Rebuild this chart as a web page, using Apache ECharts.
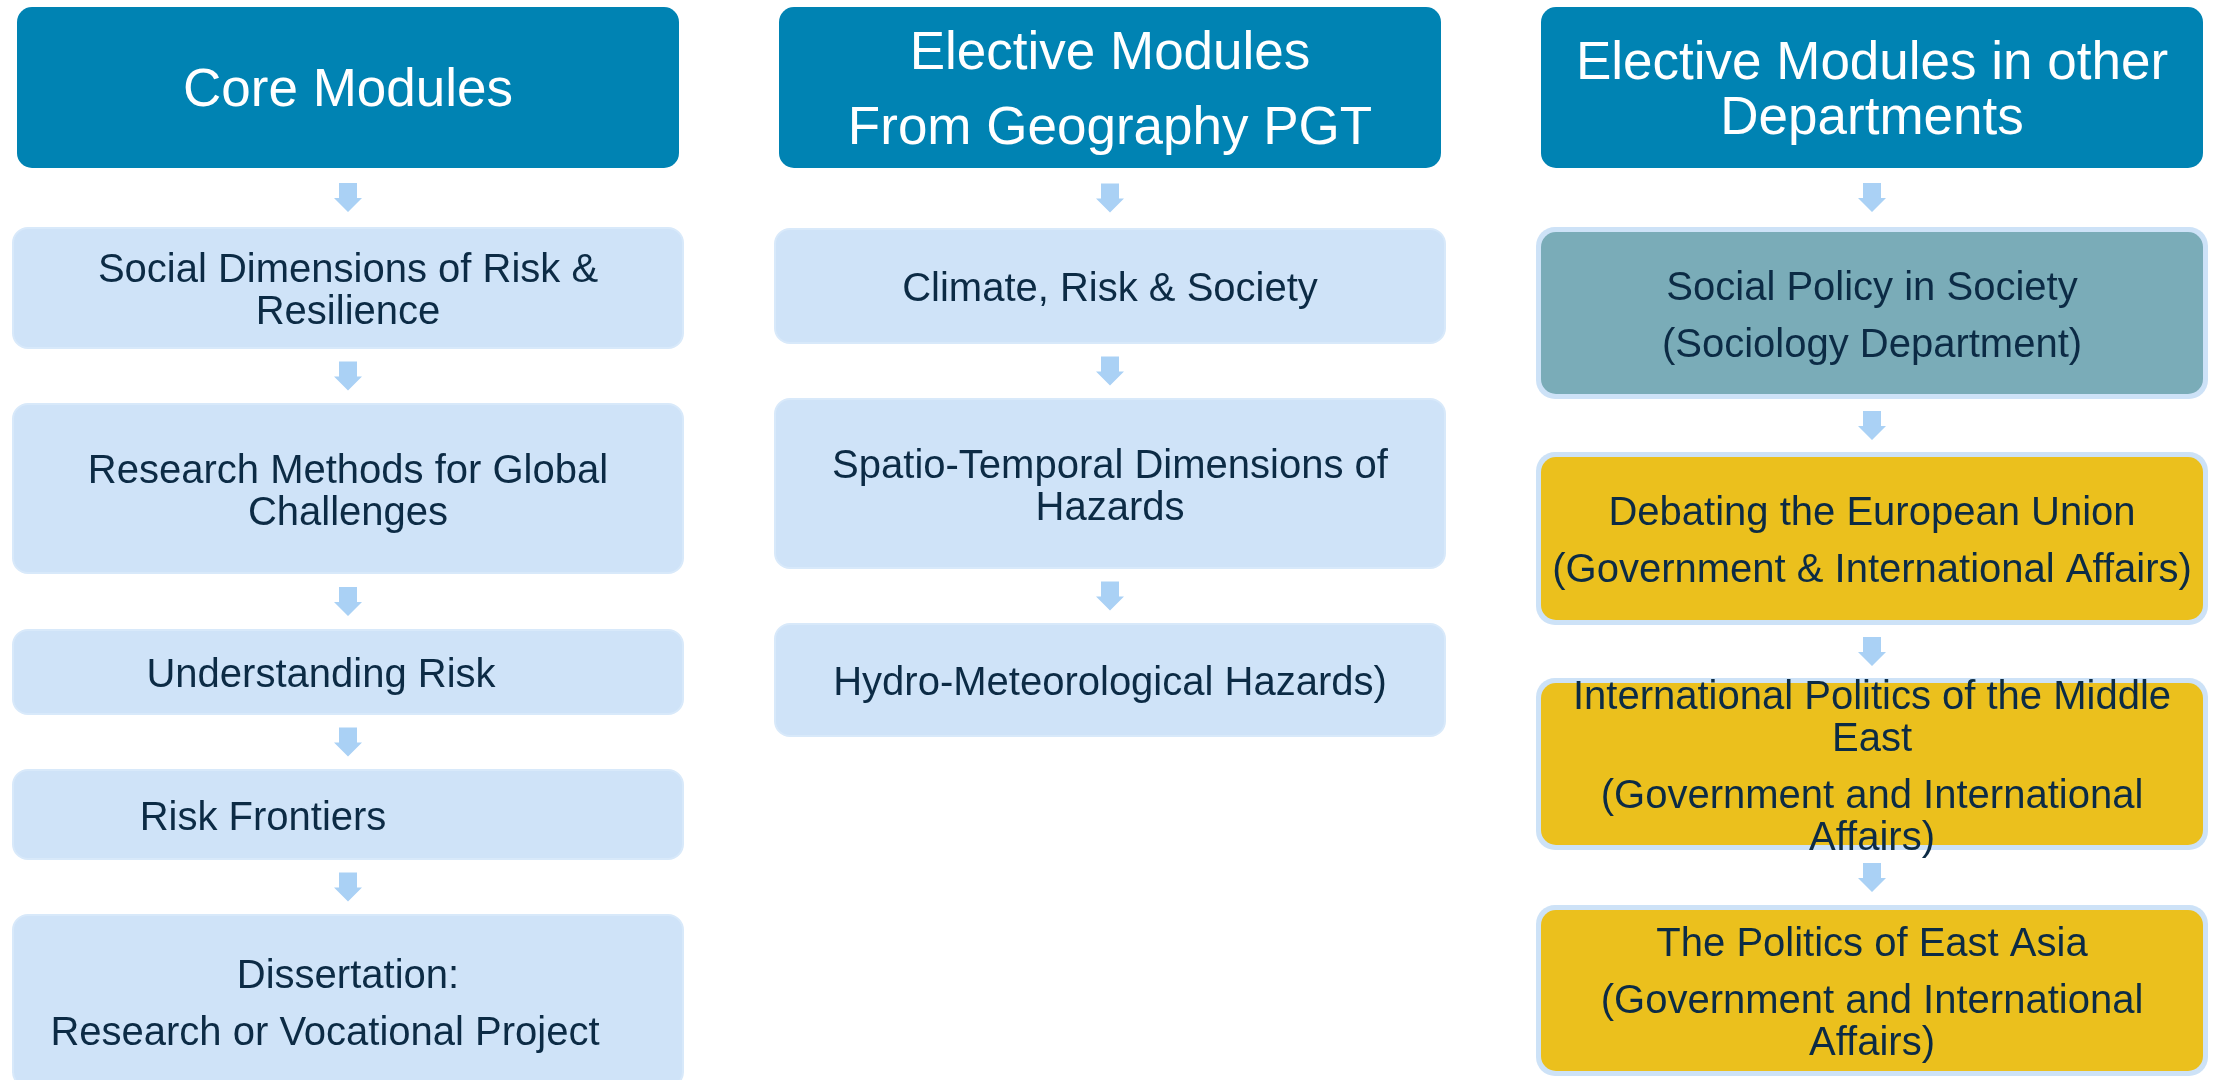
<!DOCTYPE html>
<html>
<head>
<meta charset="utf-8">
<script src="https://cdn.jsdelivr.net/npm/echarts@6/dist/echarts.min.js"></script>
<style>
  html, body { margin: 0; padding: 0; background: #ffffff; }
  #chart { width: 2219px; height: 1080px; }
</style>
</head>
<body>
<div id="chart"></div>
<script>
// ---------------- DATA (text content of the diagram) ----------------
// Each entry is a list of paragraphs; each paragraph is a list of wrapped lines.
const columnTitles = [
  [['Core Modules']],
  [['Elective Modules'], ['From Geography PGT']],
  [['Elective Modules in other', 'Departments']]
];
const coreModules = [
  [['Social Dimensions of Risk &', 'Resilience']],
  [['Research Methods for Global', 'Challenges']],
  [['Understanding Risk']],
  [['Risk Frontiers']],
  [['Dissertation:'], ['Research or Vocational Project']]
];
const geographyElectives = [
  [['Climate, Risk & Society']],
  [['Spatio-Temporal Dimensions of', 'Hazards']],
  [['Hydro-Meteorological Hazards)']]
];
const otherDeptElectives = [
  [['Social Policy in Society'], ['(Sociology Department)']],
  [['Debating the European Union'], ['(Government & International Affairs)']],
  [['International Politics of the Middle', 'East'], ['(Government and International', 'Affairs)']],
  [['The Politics of East Asia'], ['(Government and International', 'Affairs)']]
];
const otherDeptGroups = ['Sociology', 'Government', 'Government', 'Government'];
const columnModules = [coreModules, geographyElectives, otherDeptElectives];

// ---------------- LAYOUT (frame units = pixels of 2219 x 1080) ----------------
const FRAME_W = 2219, FRAME_H = 1080;
const colCenters = [348, 1110, 1872];
const headerSpan = [7, 168];
const headerWidth = 662;
const boxWidth = [672, 672, 662];
const haloWidth = [0, 0, 5];
const boxSpans = [
  [[227, 349], [403, 574], [629, 715], [769, 860], [914, 1088]],
  [[228, 344], [398, 569], [623, 737]],
  [[232, 394], [457, 620], [683, 845], [910, 1071]]
];
const lineShifts = { '0-2': [-27], '0-3': [-85], '0-4': [0, -23] };

// ---------------- STYLE ----------------
const FONT = "'Liberation Sans', Arial, 'Helvetica Neue', sans-serif";
const headerFont = { size: 53, wrap: 55, para: 75, dy: 4 };
const bodyFont = { size: 40, wrap: 42, para: 57, dy: 4 };
const colors = {
  header: '#0083B3',
  headerText: '#ffffff',
  body: '#CFE3F8',
  bodyEdge: '#D8E9FA',
  halo: '#CDE2F7',
  arrow: '#AAD1F5',
  text: '#0C2B45',
  Sociology: '#7AACB8',
  Government: '#EBC01D'
};
const radius = 15;

// ---------------- helpers ----------------
function frameToPx(api, x, y) { return api.coord([x, y]); }
function scaleOf(api) {
  const a = api.coord([0, 0]), b = api.coord([100, 100]);
  return [(b[0] - a[0]) / 100, (b[1] - a[1]) / 100];
}
function textElements(paragraphs, cx, cy, font, color, shifts, sx) {
  const items = [];
  let y = 0;
  paragraphs.forEach(function (p) {
    p.forEach(function (line, li) {
      if (items.length) y += (li === 0 ? font.para : font.wrap);
      items.push({ line: line, y: y });
    });
  });
  const mid = y / 2;
  return items.map(function (o, i) {
    const dx = shifts ? (shifts[i] || 0) : 0;
    return {
      type: 'text',
      silent: true,
      style: {
        text: o.line,
        x: cx + dx * sx,
        y: cy + (o.y - mid + font.dy) * sx,
        fill: color,
        fontSize: font.size * sx,
        fontFamily: FONT,
        textAlign: 'center',
        textVerticalAlign: 'middle',
        verticalAlign: 'middle'
      }
    };
  });
}

// ---------------- series ----------------
const headerData = columnTitles.map(function (_, c) { return [c, 0]; });
const boxData = [];
columnModules.forEach(function (mods, c) { mods.forEach(function (_, r) { boxData.push([c, r]); }); });
const arrowData = [];
columnModules.forEach(function (mods, c) { mods.forEach(function (_, r) { arrowData.push([c, r]); }); });

function renderHeader(params, api) {
  const c = api.value(0);
  const s = scaleOf(api);
  const tl = frameToPx(api, colCenters[c] - headerWidth / 2, headerSpan[0]);
  const br = frameToPx(api, colCenters[c] + headerWidth / 2, headerSpan[1]);
  const cx = (tl[0] + br[0]) / 2, cy = (tl[1] + br[1]) / 2;
  return {
    type: 'group',
    children: [{
      type: 'rect',
      shape: { x: tl[0], y: tl[1], width: br[0] - tl[0], height: br[1] - tl[1], r: radius * s[0] },
      style: { fill: colors.header }
    }].concat(textElements(columnTitles[c], cx, cy, headerFont, colors.headerText, null, s[0]))
  };
}

function renderBox(params, api) {
  const c = api.value(0), r = api.value(1);
  const s = scaleOf(api);
  const span = boxSpans[c][r];
  const w = boxWidth[c];
  const tl = frameToPx(api, colCenters[c] - w / 2, span[0]);
  const br = frameToPx(api, colCenters[c] + w / 2, span[1]);
  const cx = (tl[0] + br[0]) / 2, cy = (tl[1] + br[1]) / 2;
  const children = [];
  const halo = haloWidth[c] * s[0];
  let fill = colors.body;
  if (c === 2) fill = colors[otherDeptGroups[r]];
  if (halo > 0) {
    children.push({
      type: 'rect',
      shape: { x: tl[0] - halo, y: tl[1] - halo, width: br[0] - tl[0] + 2 * halo, height: br[1] - tl[1] + 2 * halo, r: (radius + 4) * s[0] },
      style: { fill: colors.halo }
    });
    children.push({
      type: 'rect',
      shape: { x: tl[0], y: tl[1], width: br[0] - tl[0], height: br[1] - tl[1], r: radius * s[0] },
      style: { fill: fill }
    });
  } else {
    children.push({
      type: 'rect',
      shape: { x: tl[0] + 1, y: tl[1] + 1, width: br[0] - tl[0] - 2, height: br[1] - tl[1] - 2, r: radius * s[0] },
      style: { fill: fill, stroke: colors.bodyEdge, lineWidth: 2 }
    });
  }
  const shifts = lineShifts[c + '-' + r] || null;
  return {
    type: 'group',
    children: children.concat(textElements(columnModules[c][r], cx, cy, bodyFont, colors.text, shifts, s[0]))
  };
}

function renderArrow(params, api) {
  const c = api.value(0), k = api.value(1);
  const h = haloWidth[c];
  const above = k === 0 ? headerSpan[1] : boxSpans[c][k - 1][1] + h;
  const below = boxSpans[c][k][0] - h;
  const mid = (above + below) / 2;
  const top = mid - 14.5, x = colCenters[c];
  const pts = [
    [x - 9, top], [x + 9, top], [x + 9, top + 15], [x + 14, top + 15],
    [x, top + 29], [x - 14, top + 15], [x - 9, top + 15]
  ].map(function (p) { return frameToPx(api, p[0], p[1]); });
  return {
    type: 'polygon',
    shape: { points: pts },
    style: { fill: colors.arrow }
  };
}

const chart = echarts.init(document.getElementById('chart'), null, { renderer: 'canvas' });
chart.setOption({
  animation: false,
  backgroundColor: '#ffffff',
  grid: { left: 0, right: 0, top: 0, bottom: 0, containLabel: false },
  xAxis: { type: 'value', min: 0, max: FRAME_W, show: false },
  yAxis: { type: 'value', min: 0, max: FRAME_H, inverse: true, show: false },
  tooltip: { show: false },
  series: [
    { type: 'custom', name: 'Column titles', renderItem: renderHeader, data: headerData, clip: false, silent: true },
    { type: 'custom', name: 'Modules', renderItem: renderBox, data: boxData, clip: false, silent: true },
    { type: 'custom', name: 'Arrows', renderItem: renderArrow, data: arrowData, clip: false, silent: true }
  ]
});
</script>
</body>
</html>
